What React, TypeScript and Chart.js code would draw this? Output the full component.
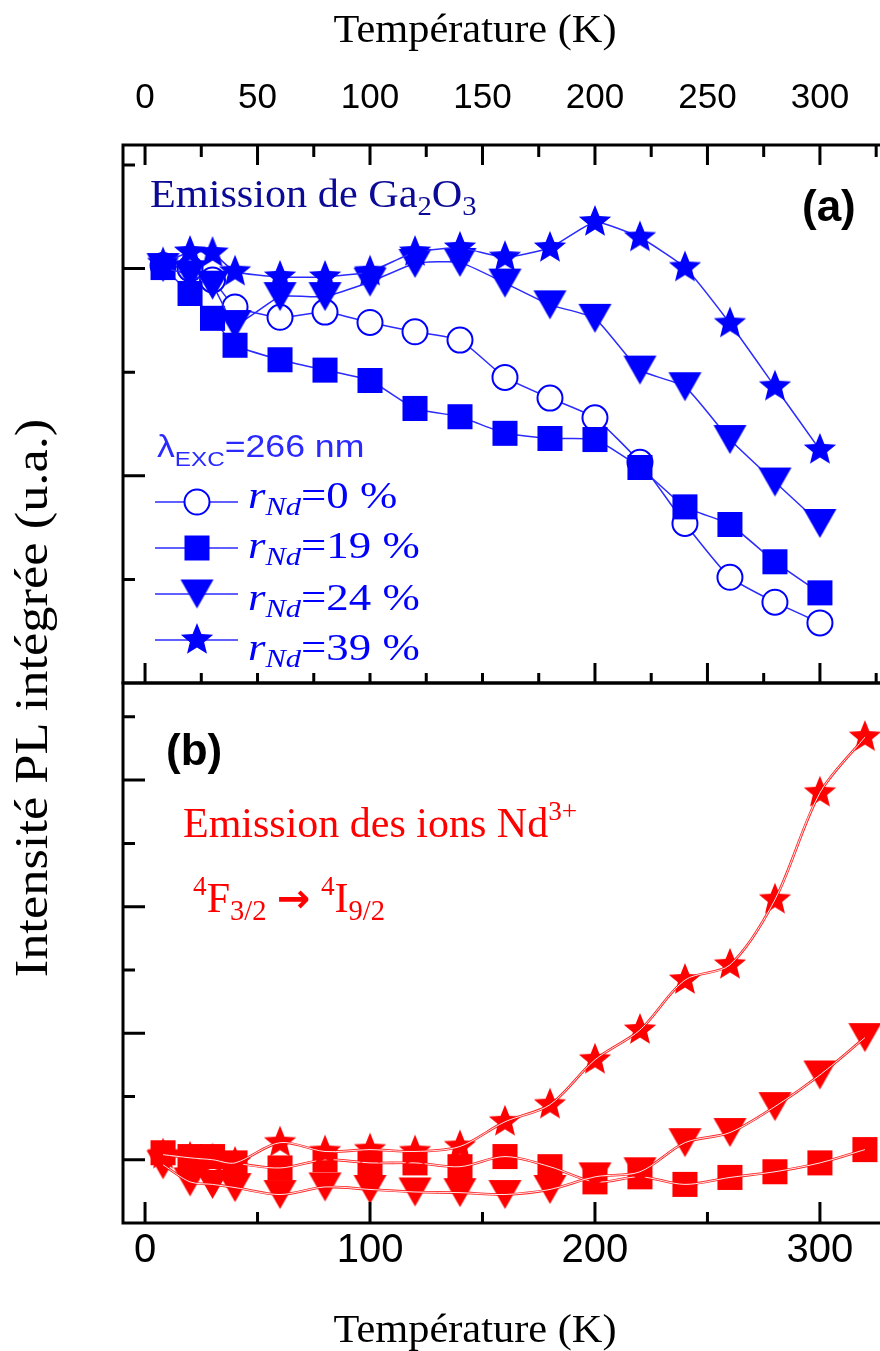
import React, { useEffect, useRef } from 'react';
import { Chart, registerables } from 'chart.js';

Chart.register(...registerables);

// ---------------- data ----------------
const X_MIN = -9.8;
const X_MAX = 326.7;

const topTickLabels = [0, 50, 100, 150, 200, 250, 300];
const bottomTickLabels = [0, 100, 200, 300];

// Panel (a): Ga2O3 emission
const temperaturesA = [8, 20, 30, 40, 60, 80, 100, 120, 140, 160, 180, 200, 220, 240, 260, 280, 300];
const gaR0 = [4.03, 4.0, 3.89, 3.63, 3.53, 3.58, 3.48, 3.39, 3.31, 2.95, 2.75, 2.56, 2.13, 1.54, 1.02, 0.78, 0.58];
const gaR19 = [4.01, 3.76, 3.52, 3.26, 3.12, 3.02, 2.92, 2.65, 2.57, 2.41, 2.36, 2.35, 2.08, 1.7, 1.53, 1.17, 0.87];
const gaR24 = [4.01, 3.94, 3.84, 3.46, 3.73, 3.73, 3.87, 4.05, 4.06, 3.86, 3.65, 3.52, 3.02, 2.86, 2.35, 1.94, 1.54];
const gaR39 = [4.05, 4.16, 4.15, 3.97, 3.92, 3.92, 3.97, 4.16, 4.2, 4.11, 4.2, 4.45, 4.3, 4.01, 3.47, 2.86, 2.25];

// Panel (b): Nd3+ emission
const temperaturesB = [8, 20, 30, 40, 60, 80, 100, 120, 140, 160, 180, 200, 220, 240, 260, 280, 300, 320];
const ndR19 = [0.11, 0.05, 0.05, -0.05, -0.13, 0.0, -0.05, -0.05, -0.11, 0.05, -0.11, -0.35, -0.27, -0.39, -0.28, -0.19, -0.05, 0.16];
const ndR24 = [-0.08, -0.35, -0.39, -0.44, -0.55, -0.43, -0.47, -0.51, -0.52, -0.55, -0.47, -0.27, -0.19, 0.27, 0.43, 0.84, 1.34, 1.93];
const ndR39 = [0.08, 0.03, 0.0, -0.05, 0.27, 0.13, 0.16, 0.13, 0.21, 0.6, 0.87, 1.58, 2.05, 2.84, 3.08, 4.11, 5.8, 6.68];

const legendPercents = ['0', '19', '24', '39'];

// ---------------- styles ----------------
const BLUE = '#0000ff';
const BLUE_LINE = '#2b2bff';
const RED = '#ff0000';
const RED_LINE = '#ff2222';
const SERIF = '"Liberation Serif", "Times New Roman", serif';
const SANS = '"Liberation Sans", Arial, sans-serif';

const pts = (xs: number[], ys: number[]) => xs.map((x, i) => ({ x, y: ys[i] }));
const range = (a: number, b: number, s: number) => {
  const out: number[] = [];
  for (let v = a; v <= b + 1e-9; v += s) out.push(v);
  return out;
};

function starCanvas(color: string, R: number, r: number) {
  const size = Math.ceil(2 * R + 2);
  const c = document.createElement('canvas');
  c.width = size;
  c.height = size;
  const g = c.getContext('2d')!;
  g.translate(size / 2, size / 2);
  g.beginPath();
  for (let i = 0; i < 10; i++) {
    const rad = i % 2 === 0 ? R : r;
    const ang = -Math.PI / 2 + (i * Math.PI) / 5;
    g.lineTo(rad * Math.cos(ang), rad * Math.sin(ang));
  }
  g.closePath();
  g.fillStyle = color;
  g.fill();
  return c;
}

function triDownCanvas(color: string, w: number, h: number) {
  const c = document.createElement('canvas');
  c.width = w + 2;
  c.height = h + 2;
  const g = c.getContext('2d')!;
  g.beginPath();
  g.moveTo(1, 1);
  g.lineTo(w + 1, 1);
  g.lineTo(w / 2 + 1, h + 1);
  g.closePath();
  g.fillStyle = color;
  g.fill();
  return c;
}

type TickGroup = { edge?: 'top' | 'bottom'; values: number[]; len: number };

function makeFramePlugin(id: string, lines: string[], xTicks: TickGroup[], yTicks: TickGroup[]) {
  return {
    id,
    afterDatasetsDraw(chart: any) {
      const { ctx, chartArea: a, scales } = chart;
      const xs = scales.x;
      const ys = scales.y;
      ctx.save();
      ctx.strokeStyle = '#000';
      ctx.lineWidth = 3;
      ctx.lineCap = 'square';
      ctx.beginPath();
      lines.forEach((side) => {
        if (side === 'left') { ctx.moveTo(a.left, a.top); ctx.lineTo(a.left, a.bottom); }
        if (side === 'top') { ctx.moveTo(a.left, a.top); ctx.lineTo(a.right + 3, a.top); }
        if (side === 'bottom') { ctx.moveTo(a.left, a.bottom); ctx.lineTo(a.right + 3, a.bottom); }
      });
      ctx.stroke();
      ctx.lineCap = 'butt';
      ctx.beginPath();
      xTicks.forEach((g) => g.values.forEach((v) => {
        const px = xs.getPixelForValue(v);
        if (px < a.left - 1 || px > a.right + 2) return;
        if (g.edge === 'top') { ctx.moveTo(px, a.top); ctx.lineTo(px, a.top + g.len); }
        else { ctx.moveTo(px, a.bottom); ctx.lineTo(px, a.bottom - g.len); }
      }));
      yTicks.forEach((g) => g.values.forEach((v) => {
        const py = ys.getPixelForValue(v);
        ctx.moveTo(a.left, py);
        ctx.lineTo(a.left + g.len, py);
      }));
      ctx.stroke();
      ctx.restore();
    },
  };
}

function makeLegendPlugin(tri: HTMLCanvasElement, star: HTMLCanvasElement) {
  const rows = [502, 548, 594, 640];
  const x1 = 155, x2 = 238, xm = 197;
  return {
    id: 'legendMarks',
    afterDatasetsDraw(chart: any) {
      const { ctx } = chart;
      ctx.save();
      rows.forEach((y, i) => {
        ctx.strokeStyle = BLUE_LINE;
        ctx.lineWidth = 1.5;
        ctx.beginPath();
        ctx.moveTo(x1, y);
        ctx.lineTo(x2, y);
        ctx.stroke();
        if (i === 0) {
          ctx.beginPath();
          ctx.arc(xm, y, 12.5, 0, Math.PI * 2);
          ctx.fillStyle = '#fff';
          ctx.fill();
          ctx.lineWidth = 2;
          ctx.strokeStyle = BLUE;
          ctx.stroke();
        } else if (i === 1) {
          ctx.fillStyle = BLUE;
          ctx.fillRect(xm - 12.5, y - 12.5, 25, 25);
        } else if (i === 2) {
          ctx.drawImage(tri, xm - tri.width / 2, y - tri.height / 2);
        } else {
          ctx.drawImage(star, xm - star.width / 2, y - star.height / 2);
        }
      });
      ctx.restore();
    },
  };
}

// ---------------- text helper ----------------
function Txt(props: {
  x: number; base: number; size: number; family: string; color?: string;
  weight?: string | number; center?: boolean; sx?: number; children: any;
}) {
  const asc = props.family === SERIF ? 0.8375 : 0.8465;
  const style: any = {
    position: 'absolute',
    top: props.base - asc * props.size,
    fontSize: props.size,
    lineHeight: `${props.size}px`,
    fontFamily: props.family,
    color: props.color || '#000',
    fontWeight: props.weight || 'normal',
    whiteSpace: 'nowrap',
  };
  if (props.center) {
    style.left = props.x - 400;
    style.width = 800;
    style.textAlign = 'center';
    if (props.sx) { style.transform = `scaleX(${props.sx})`; style.transformOrigin = 'center'; }
  } else {
    style.left = props.x;
    if (props.sx) { style.transform = `scaleX(${props.sx})`; style.transformOrigin = 'left'; }
  }
  return <div style={style}>{props.children}</div>;
}

const sub = (t: string, em = 0.68, drop = 0.3, italic = false) => (
  <span style={{ fontSize: `${em}em`, position: 'relative', top: `${drop}em`, fontStyle: italic ? 'italic' : 'normal' }}>{t}</span>
);
const sup = (t: string, em = 0.65, rise = 0.6) => (
  <span style={{ fontSize: `${em}em`, position: 'relative', top: `-${rise}em` }}>{t}</span>
);

export default function App() {
  const refA = useRef<HTMLCanvasElement>(null);
  const refB = useRef<HTMLCanvasElement>(null);

  useEffect(() => {
    const starBlue = starCanvas(BLUE, 17, 7.5);
    const triBlue = triDownCanvas(BLUE, 33, 29);
    const starRed = starCanvas(RED, 17, 7.5);
    const triRed = triDownCanvas(RED, 33, 29);

    const tickFontA = { family: 'Liberation Sans', size: 35 };
    const tickFontB = { family: 'Liberation Sans', size: 40 };

    const lineA = { borderColor: BLUE_LINE, borderWidth: 1.5, tension: 0.15, fill: false };

    const chartA = new Chart(refA.current!, {
      type: 'line',
      data: {
        datasets: [
          { ...lineA, order: 4, data: pts(temperaturesA, gaR0), pointStyle: 'circle', pointRadius: 12.5, pointBackgroundColor: '#fff', pointBorderColor: BLUE, pointBorderWidth: 2 },
          { ...lineA, order: 3, data: pts(temperaturesA, gaR19), pointStyle: 'rect', pointRadius: 17.7, pointBackgroundColor: BLUE, pointBorderColor: BLUE, pointBorderWidth: 0 },
          { ...lineA, order: 2, data: pts(temperaturesA, gaR24), pointStyle: triBlue as any, pointRadius: 16 },
          { ...lineA, order: 1, data: pts(temperaturesA, gaR39), pointStyle: starBlue as any, pointRadius: 16 },
        ] as any,
      },
      options: {
        animation: false,
        responsive: false,
        events: [],
        layout: { autoPadding: false, padding: { left: 123, right: 0, top: 0, bottom: 7 } },
        plugins: { legend: { display: false }, tooltip: { enabled: false }, title: { display: false } },
        scales: {
          x: {
            type: 'linear', position: 'top', min: X_MIN, max: X_MAX,
            grid: { display: false, drawTicks: false }, border: { display: false },
            ticks: { font: tickFontA, color: '#000', padding: 26, maxRotation: 0, autoSkip: false },
            afterBuildTicks: (s: any) => { s.ticks = topTickLabels.map((v) => ({ value: v })); },
            afterFit: (s: any) => { s.height = 145; },
          },
          y: { type: 'linear', display: false, min: 0, max: 5.193 },
        },
      } as any,
      plugins: [
        makeFramePlugin('frameA', ['left', 'top', 'bottom'], [
          { edge: 'top', values: range(0, 300, 50), len: 20 },
          { edge: 'top', values: range(25, 325, 50), len: 12 },
          { edge: 'bottom', values: [0, 200, 250, 300], len: 20 },
          { edge: 'bottom', values: [25, 50, 75, 100, 125, 150, 175, 225, 275, 325], len: 10 },
        ], [
          { values: [2, 4], len: 22 },
          { values: [1, 3, 5], len: 12 },
        ]),
        makeLegendPlugin(triBlue, starBlue),
      ],
    });

    const redLine = { borderColor: RED_LINE, borderWidth: 2.6, tension: 0.3, fill: false };
    const whiteCore = { borderColor: '#ffffff', borderWidth: 0.9, tension: 0.3, fill: false, pointRadius: 0 };

    const chartB = new Chart(refB.current!, {
      type: 'line',
      data: {
        datasets: [
          { ...redLine, order: 6, data: pts(temperaturesB, ndR19), pointStyle: 'rect', pointRadius: 17.7, pointBackgroundColor: RED, pointBorderWidth: 0 },
          { ...whiteCore, order: 5, data: pts(temperaturesB, ndR19) },
          { ...redLine, order: 4, data: pts(temperaturesB, ndR24), pointStyle: triRed as any, pointRadius: 16 },
          { ...whiteCore, order: 3, data: pts(temperaturesB, ndR24) },
          { ...redLine, order: 2, data: pts(temperaturesB, ndR39), pointStyle: starRed as any, pointRadius: 16 },
          { ...whiteCore, order: 1, data: pts(temperaturesB, ndR39) },
        ] as any,
      },
      options: {
        animation: false,
        responsive: false,
        events: [],
        layout: { autoPadding: false, padding: { left: 123, right: 0, top: 7, bottom: 0 } },
        plugins: { legend: { display: false }, tooltip: { enabled: false }, title: { display: false } },
        scales: {
          x: {
            type: 'linear', position: 'bottom', min: X_MIN, max: X_MAX,
            grid: { display: false, drawTicks: false }, border: { display: false },
            ticks: { font: tickFontB, color: '#000', padding: 4, maxRotation: 0, autoSkip: false },
            afterBuildTicks: (s: any) => { s.ticks = bottomTickLabels.map((v) => ({ value: v })); },
            afterFit: (s: any) => { s.height = 128; },
          },
          y: { type: 'linear', display: false, min: -1, max: 7.535 },
        },
      } as any,
      plugins: [
        makeFramePlugin('frameB', ['left', 'bottom', 'top'], [
          { edge: 'bottom', values: [0, 100, 200, 300], len: 21 },
          { edge: 'bottom', values: [50, 150, 250], len: 11 },
        ], [
          { values: [0, 2, 4, 6], len: 22 },
          { values: [1, 3, 5, 7], len: 12 },
        ]),
      ],
    });

    return () => {
      chartA.destroy();
      chartB.destroy();
    };
  }, []);

  return (
    <div style={{ position: 'absolute', left: 0, top: 0, width: 880, height: 1351, background: '#fff', overflow: 'hidden' }}>
      <canvas ref={refA} width={880} height={690} style={{ position: 'absolute', left: 0, top: 0, width: 880, height: 690 }} />
      <canvas ref={refB} width={880} height={675} style={{ position: 'absolute', left: 0, top: 676, width: 880, height: 675 }} />

      {/* axis titles */}
      <Txt x={475} base={42} size={40} family={SERIF} center sx={1.06}>Température (K)</Txt>
      <Txt x={475} base={1342} size={40} family={SERIF} center sx={1.06}>Température (K)</Txt>
      <div style={{
        position: 'absolute', left: 32 - 400, top: 698 - 25, width: 800, height: 50,
        lineHeight: '50px', fontSize: 46, fontFamily: SERIF, textAlign: 'center',
        transform: 'rotate(-90deg) scaleX(1.14)', whiteSpace: 'nowrap', color: '#000',
      }}>Intensité PL intégrée (u.a.)</div>

      {/* panel (a) annotations */}
      <Txt x={150} base={207} size={41} family={SERIF} color="#0a0a96" sx={1.03}>
        Emission de Ga{sub('2')}O{sub('3')}
      </Txt>
      <Txt x={802} base={221} size={44} family={SANS} weight="bold">(a)</Txt>
      <Txt x={157} base={457} size={31} family={SANS} color="#2a2aff" sx={1.15}>
        λ{sub('EXC', 0.68, 0.45)}=266 nm
      </Txt>
      {legendPercents.map((p, i) => (
        <Txt key={p} x={248} base={[508, 558, 610, 660][i]} size={38} family={SERIF} color={BLUE} sx={1.18}>
          <i>r</i>{sub('Nd', 0.68, 0.25, true)}={p} %
        </Txt>
      ))}

      {/* panel (b) annotations */}
      <Txt x={166} base={765} size={44} family={SANS} weight="bold">(b)</Txt>
      <Txt x={183} base={837} size={42} family={SERIF} color={RED}>
        Emission des ions Nd{sup('3+')}
      </Txt>
      <Txt x={193} base={912} size={42} family={SERIF} color={RED}>
        {sup('4')}F{sub('3/2')}{' '}
        <span style={{ fontFamily: '"DejaVu Sans", sans-serif', fontWeight: 'bold', fontSize: '0.95em' }}>→</span>{' '}
        {sup('4')}I{sub('9/2')}
      </Txt>
    </div>
  );
}
